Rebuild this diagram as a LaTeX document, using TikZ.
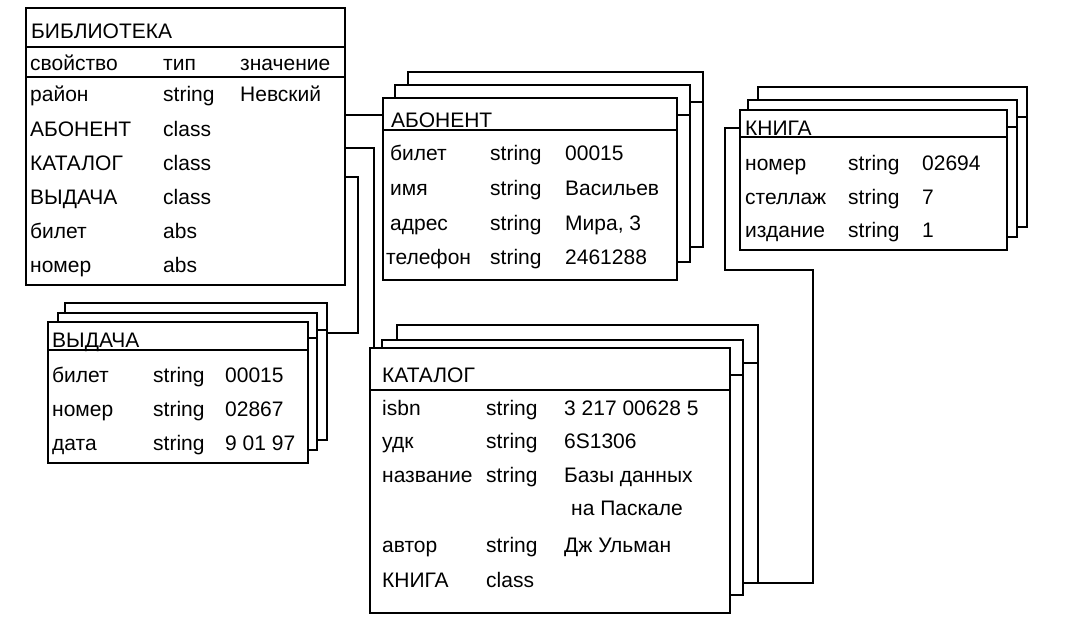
\documentclass[tikz,border=0pt]{standalone}
\usepackage{fontspec}
\setmainfont{Liberation Sans}
\newcommand\cardbox[5]{\node[frame, minimum width={(#4-#2)*1pt}, minimum height={(#5-#3)*1pt}] (#1) at (#2,#3) {};}
\newcommand\hsepline[2]{\draw[sep] (#1.west |- 0,#2) -- (#1.east |- 0,#2);}
\newcommand\tx[4]{\node[txt] (#1) at (#2,#3) {#4};}
\begin{document}
\begin{tikzpicture}[x=1pt,y=-1pt,
  frame/.style={draw, line width=1.6pt, fill=white, inner sep=0pt, outer sep=0pt, anchor=north west},
  sep/.style={line width=1.5pt},
  conn/.style={line width=1.6pt},
  txt/.style={anchor=base west, inner sep=0pt, font=\fontsize{21}{25}\selectfont}]
\useasboundingbox (0,0) rectangle (1067,632);
\fill[white] (0,0) rectangle (1067,632);

% ---------- БИБЛИОТЕКА ----------
\cardbox{bib}{26}{8}{345}{285}
\hsepline{bib}{47}
\hsepline{bib}{77}
\tx{b0}{31}{38}{БИБЛИОТЕКА}
\tx{b1}{30}{70}{свойство}
\tx{b2}{163}{70}{тип}
\tx{b3}{240}{70}{значение}
\tx{b4}{30}{101}{район}
\tx{b5}{163}{101}{string}
\tx{b6}{240}{101}{Невский}
\tx{b7}{30}{136}{АБОНЕНТ}
\tx{b8}{163}{136}{class}
\tx{b9}{30}{170}{КАТАЛОГ}
\tx{b10}{163}{170}{class}
\tx{b11}{30}{204}{ВЫДАЧА}
\tx{b12}{163}{204}{class}
\tx{b13}{30}{238}{билет}
\tx{b14}{163}{238}{abs}
\tx{b15}{30}{272}{номер}
\tx{b16}{163}{272}{abs}

% ---------- АБОНЕНТ ----------
\cardbox{abon3}{408}{72}{703}{247}
\hsepline{abon3}{102}
\cardbox{abon2}{395}{85}{690}{262}
\hsepline{abon2}{115}
\cardbox{abon}{383}{98}{677}{280}
\hsepline{abon}{130}
\tx{a0}{391}{127}{АБОНЕНТ}
\tx{a1}{390}{160}{билет}
\tx{a2}{490}{160}{string}
\tx{a3}{565}{160}{00015}
\tx{a4}{390}{195}{имя}
\tx{a5}{490}{195}{string}
\tx{a6}{565}{195}{Васильев}
\tx{a7}{390}{230}{адрес}
\tx{a8}{490}{230}{string}
\tx{a9}{565}{230}{Мира, 3}
\tx{a10}{386}{264}{телефон}
\tx{a11}{490}{264}{string}
\tx{a12}{565}{264}{2461288}

% ---------- КНИГА ----------
\cardbox{kniga3}{758}{87}{1027}{227}
\hsepline{kniga3}{117}
\cardbox{kniga2}{748}{100}{1017}{237}
\hsepline{kniga2}{127}
\cardbox{kniga}{740}{110}{1007}{250}
\hsepline{kniga}{137}
\tx{k0}{745}{135}{КНИГА}
\tx{k1}{745}{170}{номер}
\tx{k2}{848}{170}{string}
\tx{k3}{922}{170}{02694}
\tx{k4}{745}{204}{стеллаж}
\tx{k5}{848}{204}{string}
\tx{k6}{922}{204}{7}
\tx{k7}{745}{237}{издание}
\tx{k8}{848}{237}{string}
\tx{k9}{922}{237}{1}

% ---------- ВЫДАЧА ----------
\cardbox{vyd3}{65}{303}{327}{440}
\hsepline{vyd3}{330}
\cardbox{vyd2}{58}{313}{317}{450}
\hsepline{vyd2}{338}
\cardbox{vyd}{48}{322}{308}{463}
\hsepline{vyd}{350}
\tx{v0}{52}{347}{ВЫДАЧА}
\tx{v1}{52}{382}{билет}
\tx{v2}{153}{382}{string}
\tx{v3}{225}{382}{00015}
\tx{v4}{52}{416}{номер}
\tx{v5}{153}{416}{string}
\tx{v6}{225}{416}{02867}
\tx{v7}{52}{450}{дата}
\tx{v8}{153}{450}{string}
\tx{v9}{225}{450}{9 01 97}

% ---------- КАТАЛОГ ----------
\cardbox{katc}{397}{325}{758}{583}
\hsepline{katc}{363}
\cardbox{kat2}{382}{340}{743}{595}
\hsepline{kat2}{375}
\cardbox{kat}{370}{348}{730}{613}
\hsepline{kat}{390}
\tx{c0}{382}{382}{КАТАЛОГ}
\tx{c1}{382}{415}{isbn}
\tx{c2}{486}{415}{string}
\tx{c3}{564}{415}{3 217 00628 5}
\tx{c4}{382}{448}{удк}
\tx{c5}{486}{448}{string}
\tx{c6}{564}{448}{6S1306}
\tx{c7}{382}{482}{название}
\tx{c8}{486}{482}{string}
\tx{c9}{564}{482}{Базы данных}
\tx{c10}{571}{515}{на Паскале}
\tx{c11}{382}{552}{автор}
\tx{c12}{486}{552}{string}
\tx{c13}{564}{552}{Дж Ульман}
\tx{c14}{382}{587}{КНИГА}
\tx{c15}{486}{587}{class}

% ---------- connectors ----------
\draw[conn] (bib.east |- 0,115) -- (abon.west |- 0,115);
\draw[conn] (bib.east |- 0,148) -| ([xshift=4pt]kat.north west);
\draw[conn] (bib.east |- 0,177) -- ++(13,0) |- (vyd3.east |- 0,333);
\draw[conn] (kniga.west |- 0,128) -| (725,270) -| (813,583) -- (katc.east |- 0,583);
\end{tikzpicture}
\end{document}
